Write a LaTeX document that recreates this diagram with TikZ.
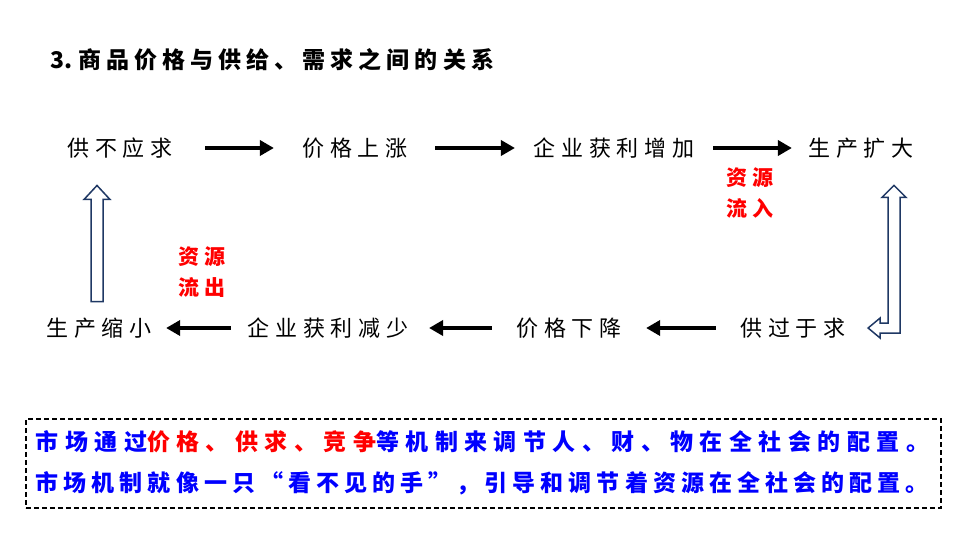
\documentclass[tikz,border=0pt]{standalone}
\usepackage{fontspec}
\setmainfont{Noto Sans CJK SC}
\usetikzlibrary{arrows.meta,calc}
\definecolor{navy}{RGB}{31,56,100}
\tikzset{
  item/.style={inner sep=2pt, font=\fontsize{22}{26}\selectfont\addfontfeature{LetterSpace=27}},
  flowlabel/.style={inner sep=2pt, text=red, align=center, font=\bfseries\fontsize{21}{31}\selectfont\addfontfeature{LetterSpace=20}},
  blackarrow/.style={line width=4pt, -{Triangle[length=14pt,width=15pt]}},
  hollowarrow/.style={draw=navy, line width=1.5pt, fill=white, line join=miter},
}
\begin{document}
\begin{tikzpicture}[x=1pt,y=-1pt]
                \useasboundingbox (0,0) rectangle (960,540);
                \node[anchor=west, inner sep=0pt, font=\bfseries\fontsize{23}{26}\selectfont] (title) at (50,60)
                      {3.\hspace{6pt}\addfontfeature{LetterSpace=22}商品价格与供给、需求之间的关系};
                % top row
                \node[item] (gbyq) at (120,148) {供不应求};
                \node[item] (jgsz) at (355,148) {价格上涨};
                \node[item] (qyzj) at (614,148) {企业获利增加};
                \node[item] (sckd) at (861,148) {生产扩大};
                % bottom row
                \node[item] (scsx) at (99,328) {生产缩小};
                \node[item] (qyjs) at (328,328) {企业获利减少};
                \node[item] (jgxj) at (569,328) {价格下降};
                \node[item] (ggyq) at (793,328) {供过于求};
                \node[flowlabel] (zylr) at (750,193) {资源\\流入};
                \node[flowlabel] (zylc) at (202,272) {资源\\流出};
                \draw [blackarrow] ([xshift=30pt]gbyq.east) -- ([xshift=-26pt]jgsz.west);
                \draw [blackarrow] ([xshift=25pt]jgsz.east) -- ([xshift=-16pt]qyzj.west);
                \draw [blackarrow] ([xshift=16pt]qyzj.east) -- ([xshift=-14pt]sckd.west);
                \draw [blackarrow] ([xshift=-22pt]ggyq.west) -- ([xshift=22pt]jgxj.east);
                \draw [blackarrow] ([xshift=-22pt]jgxj.west) -- ([xshift=18pt]qyjs.east);
                \draw [blackarrow] ([xshift=-14pt]qyjs.west) -- ([xshift=12pt]scsx.east);
                % hollow arrows
                \coordinate (ltip) at ([xshift=-2pt,yshift=-25pt]scsx.north |- gbyq.south);
                \coordinate (lbot) at ([xshift=-2pt,yshift=14pt]scsx.north);
                \draw [hollowarrow] (ltip) -- ++(13,14) -- ++(-7,0) -- ([xshift=6pt]lbot) -- ([xshift=-6pt]lbot)
                      -- ($(ltip)+(-6,14)$) -- ++(-7,0) -- cycle;
                \coordinate (rtip) at ([xshift=33pt,yshift=-25pt]sckd.south);
                \coordinate (rend) at ([xshift=20pt]ggyq.east);
                \coordinate (rcorner) at (rtip |- rend);
                \draw [hollowarrow] (rtip) -- ++(12,12) -- ++(-6,0) -- ($(rcorner)+(6,5)$) -- ($(rend)+(12,5)$) -- ++(0,5)
                      -- (rend) -- ++(12,-10) -- ++(0,5) -- ($(rcorner)+(-6,-5)$) -- ($(rtip)+(-6,12)$) -- ++(-6,0) -- cycle;
                % box
                \node[draw, dash pattern=on 5pt off 3pt, line width=1.5pt, anchor=north west, inner xsep=10pt, inner ysep=0pt,
                      minimum width=912pt, minimum height=89pt, text width=895pt, align=left, text=blue,
                      font=\bfseries\fontsize{23}{41}\selectfont] (box) at (25,418)
                      {\addfontfeature{LetterSpace=28}市场通过\textcolor{red}{价格、供求、竞争}等机制来调节人、财、物在全社会的配置。\\
                       \addfontfeature{LetterSpace=22}市场机制就像一只“看不见的手”，引导和调节着资源在全社会的配置。};
            \end{tikzpicture}
\end{document}
